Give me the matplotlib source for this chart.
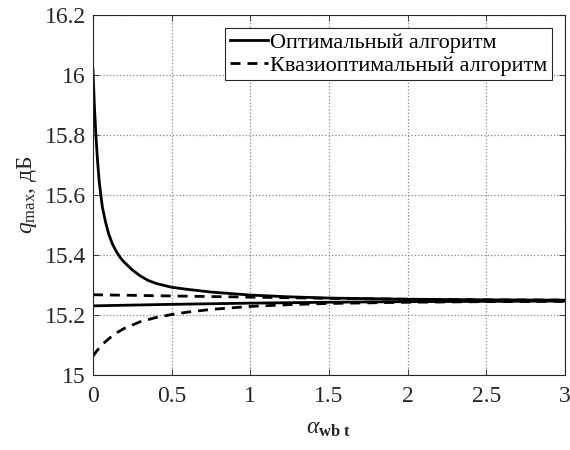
import matplotlib
matplotlib.use("Agg")
import matplotlib.pyplot as plt

plt.rcParams['font.family'] = ['Liberation Serif', 'DejaVu Serif']
plt.rcParams['mathtext.fontset'] = 'custom'
plt.rcParams['mathtext.rm'] = 'Liberation Serif'
plt.rcParams['mathtext.it'] = 'Liberation Serif:italic'
plt.rcParams['mathtext.bf'] = 'Liberation Serif:bold'

# optimal algorithm, upper branch
a_opt_hi = [0, 0.01, 0.02, 0.03, 0.04, 0.05, 0.06, 0.08, 0.1, 0.125, 0.15, 0.175, 0.2, 0.25,
            0.3, 0.35, 0.4, 0.5, 0.6, 0.75, 1, 1.25, 1.5, 2, 2.5, 3]
q_opt_hi = [16.02, 15.89, 15.79, 15.71, 15.645, 15.60, 15.56, 15.51, 15.47, 15.435, 15.41, 15.39,
            15.375, 15.35, 15.33, 15.315, 15.305, 15.292, 15.285, 15.276, 15.266, 15.26, 15.256,
            15.252, 15.25, 15.249]

# optimal algorithm, lower branch
a_opt_lo = [0, 0.5, 1, 1.5, 2, 2.5, 3]
q_opt_lo = [15.230, 15.235, 15.239, 15.242, 15.244, 15.245, 15.246]

# quasi-optimal algorithm, upper branch
a_quasi_hi = [0, 0.5, 1, 1.5, 2, 2.5, 3]
q_quasi_hi = [15.267, 15.263, 15.259, 15.255, 15.252, 15.25, 15.249]

# quasi-optimal algorithm, lower branch
a_quasi_lo = [0, 0.025, 0.05, 0.1, 0.15, 0.2, 0.25, 0.3, 0.4, 0.5, 0.6, 0.75, 1, 1.25, 1.5, 2, 2.5, 3]
q_quasi_lo = [15.062, 15.08, 15.096, 15.12, 15.14, 15.155, 15.166, 15.177, 15.191, 15.201, 15.209,
              15.218, 15.228, 15.234, 15.238, 15.242, 15.244, 15.245]

fig = plt.figure(figsize=(5.7, 4.5), dpi=100)
ax = fig.add_axes([0.163, 0.167, 0.828, 0.8])

lw = 2.0
dash = (3.6, 2.5)
ax.plot(a_opt_hi, q_opt_hi, 'k-', lw=lw, label='Оптимальный алгоритм')
ax.plot(a_opt_lo, q_opt_lo, 'k-', lw=lw)
ax.plot(a_quasi_hi, q_quasi_hi, 'k--', lw=lw, dashes=dash, label='Квазиоптимальный алгоритм')
ax.plot(a_quasi_lo, q_quasi_lo, 'k--', lw=lw, dashes=dash)

ax.set_xlim(0, 3)
ax.set_ylim(15, 16.2)
ax.set_xticks([0, 0.5, 1, 1.5, 2, 2.5, 3])
ax.set_xticklabels(['0', '0.5', '1', '1.5', '2', '2.5', '3'])
ax.set_yticks([15, 15.2, 15.4, 15.6, 15.8, 16, 16.2])
ax.set_yticklabels(['15', '15.2', '15.4', '15.6', '15.8', '16', '16.2'])
ax.tick_params(direction='in', length=4, width=0.6, labelsize=17, top=True, right=True,
               colors='#262626', labelcolor='#262626')
ax.tick_params(axis='x', pad=8)
ax.tick_params(axis='y', pad=5)
ax.grid(True, linestyle=':', color='#888888', linewidth=0.9)
for s in ax.spines.values():
    s.set_linewidth(0.8)
    s.set_color('#262626')

ax.set_xlabel(r'$\alpha_{\mathbf{wb\ t}}$', fontsize=17, color='#262626', labelpad=8)
ax.set_ylabel(r'$q_{\mathrm{max}}$, дБ', fontsize=17, color='#262626', labelpad=4)

leg = ax.legend(loc='upper right', fontsize=16, frameon=True, fancybox=False,
                edgecolor='#262626', framealpha=1, handlelength=1.7, handletextpad=0.1,
                borderpad=0.2, labelspacing=0.1, borderaxespad=0.6)
leg.get_frame().set_linewidth(0.8)

fig.savefig('out.png', dpi=100)
